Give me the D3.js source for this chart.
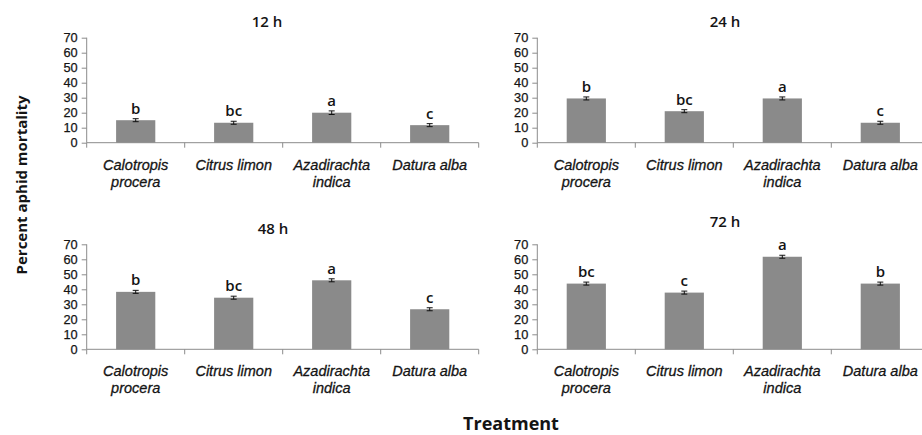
<!DOCTYPE html>
<html>
<head>
<meta charset="utf-8">
<script src="https://cdn.jsdelivr.net/npm/d3@7/dist/d3.min.js"></script>
<style>
  html, body { margin: 0; padding: 0; background: #fff; }
  svg { display: block; font-family: "Open Sans", "DejaVu Sans", sans-serif; }
</style>
</head>
<body>
<svg id="chart" width="922" height="435"></svg>
<script>
// Plant extracts tested
const categories = [
  ["Calotropis", "procera"],
  ["Citrus limon"],
  ["Azadirachta", "indica"],
  ["Datura alba"]
];
const timepoints = ["12 h", "24 h", "48 h", "72 h"];

// Mean percent aphid mortality per extract at each exposure time
const mortality12 = [15.0, 13.3, 20.0, 11.7];
const mortality24 = [29.5, 21.0, 29.5, 13.3];
const mortality48 = [38.3, 34.4, 46.0, 26.7];
const mortality72 = [43.8, 37.8, 61.7, 43.8];

// Standard errors
const error12 = [1.0, 1.0, 1.2, 1.0];
const error24 = [1.0, 1.0, 1.0, 1.0];
const error48 = [1.0, 1.0, 1.0, 1.0];
const error72 = [1.0, 1.0, 1.0, 1.0];

// Significance letters
const letters12 = ["b", "bc", "a", "c"];
const letters24 = ["b", "bc", "a", "c"];
const letters48 = ["b", "bc", "a", "c"];
const letters72 = ["bc", "c", "a", "b"];

const yTicks = [0, 10, 20, 30, 40, 50, 60, 70];

const panels = [
  { title: timepoints[0], values: mortality12, errors: error12, letters: letters12 },
  { title: timepoints[1], values: mortality24, errors: error24, letters: letters24 },
  { title: timepoints[2], values: mortality48, errors: error48, letters: letters48 },
  { title: timepoints[3], values: mortality72, errors: error72, letters: letters72 }
];

// Panel placement: plot origin (left, top of y range), title anchor
const layout = [
  { x: 86.7,  y: 37.7,  tx: 267, ty: 22 },
  { x: 537.3, y: 37.7,  tx: 725, ty: 22 },
  { x: 86.7,  y: 244.3, tx: 273, ty: 228.5 },
  { x: 537.3, y: 244.3, tx: 725, ty: 222 }
];
const plotW = 392, plotH = 105;

const svg = d3.select("#chart");
const axisColor = "#8c8c8c";
const barColor = "#8a8a8a";
const textColor = "#141414";
const sansFont = "\"Liberation Sans\", Arial, sans-serif";

panels.forEach((p, i) => {
  const L = layout[i];
  const g = svg.append("g").attr("transform", `translate(${L.x},${L.y})`);

  const x = d3.scaleBand().domain(d3.range(categories.length)).range([0, plotW]).paddingInner(0.6).paddingOuter(0.3);
  const xb = d3.scaleBand().domain(d3.range(categories.length)).range([0, plotW]);
  const y = d3.scaleLinear().domain([0, 70]).range([plotH, 0]);

  // y axis
  const yAxis = g.append("g")
    .call(d3.axisLeft(y).tickValues(yTicks).tickSize(5).tickPadding(4).tickFormat(d3.format("d")));
  yAxis.select(".domain").attr("stroke", axisColor).attr("d", `M0,${plotH}V0`);
  yAxis.selectAll(".tick line").attr("stroke", axisColor);
  yAxis.selectAll(".tick text").attr("fill", textColor)
    .attr("stroke", textColor).attr("stroke-width", 0.25)
    .style("font-size", "12.8px")
    .style("font-family", sansFont);

  // x baseline with ticks at category boundaries
  const bounds = d3.range(categories.length + 1).map(k => k * xb.bandwidth());
  g.append("line").attr("x1", 0).attr("x2", plotW).attr("y1", plotH).attr("y2", plotH)
    .attr("stroke", axisColor).attr("stroke-width", 1);
  g.selectAll(".xtick").data(bounds).join("line")
    .attr("x1", d => d).attr("x2", d => d)
    .attr("y1", plotH).attr("y2", plotH + 5)
    .attr("stroke", axisColor);

  // bars
  g.selectAll(".bar").data(p.values).join("rect")
    .attr("x", (d, k) => x(k))
    .attr("width", x.bandwidth())
    .attr("y", d => y(d))
    .attr("height", d => plotH - y(d))
    .attr("fill", barColor);

  // error bars
  const eb = g.selectAll(".err").data(p.values).join("g");
  eb.append("line")
    .attr("x1", (d, k) => x(k) + x.bandwidth() / 2).attr("x2", (d, k) => x(k) + x.bandwidth() / 2)
    .attr("y1", (d, k) => y(d + p.errors[k])).attr("y2", (d, k) => y(d - p.errors[k]))
    .attr("stroke", "#111").attr("stroke-width", 1);
  [1, -1].forEach(s => {
    eb.append("line")
      .attr("x1", (d, k) => x(k) + x.bandwidth() / 2 - 3).attr("x2", (d, k) => x(k) + x.bandwidth() / 2 + 3)
      .attr("y1", (d, k) => y(d + s * p.errors[k])).attr("y2", (d, k) => y(d + s * p.errors[k]))
      .attr("stroke", "#111").attr("stroke-width", 1);
  });

  // significance letters
  g.selectAll(".letter").data(p.values).join("text")
    .attr("x", (d, k) => x(k) + x.bandwidth() / 2)
    .attr("y", (d, k) => y(d + p.errors[k]) - 5)
    .attr("text-anchor", "middle")
    .attr("fill", textColor)
    .style("font-size", "15px")
    .style("font-weight", "600")
    .text((d, k) => p.letters[k]);

  // category labels (italic, wrapped)
  const cl = g.selectAll(".cat").data(categories).join("text")
    .attr("text-anchor", "middle")
    .attr("fill", textColor)
    .attr("stroke", textColor).attr("stroke-width", 0.3)
    .style("font-family", sansFont)
    .style("font-size", "14.5px")
    .style("font-style", "italic");
  cl.each(function(lines, k) {
    const t = d3.select(this);
    lines.forEach((ln, j) => {
      t.append("tspan")
        .attr("x", xb(k) + xb.bandwidth() / 2)
        .attr("y", plotH + 27 + j * 17)
        .text(ln);
    });
  });

  // panel title
  svg.append("text")
    .attr("x", L.tx).attr("y", L.ty)
    .attr("dy", "0.35em")
    .attr("text-anchor", "middle")
    .attr("fill", textColor)
    .style("font-size", "15px")
    .style("font-weight", "600")
    .text(p.title);
});

// shared axis titles
svg.append("text")
  .attr("transform", "translate(22,185) rotate(-90)")
  .attr("dy", "0.35em")
  .attr("text-anchor", "middle")
  .attr("fill", textColor)
  .style("font-size", "15px")
  .style("font-weight", "700")
  .text("Percent aphid mortality");

svg.append("text")
  .attr("x", 511).attr("y", 424)
  .attr("dy", "0.35em")
  .attr("text-anchor", "middle")
  .attr("fill", textColor)
  .style("font-size", "18px")
  .style("font-weight", "700")
  .text("Treatment");
</script>
</body>
</html>
